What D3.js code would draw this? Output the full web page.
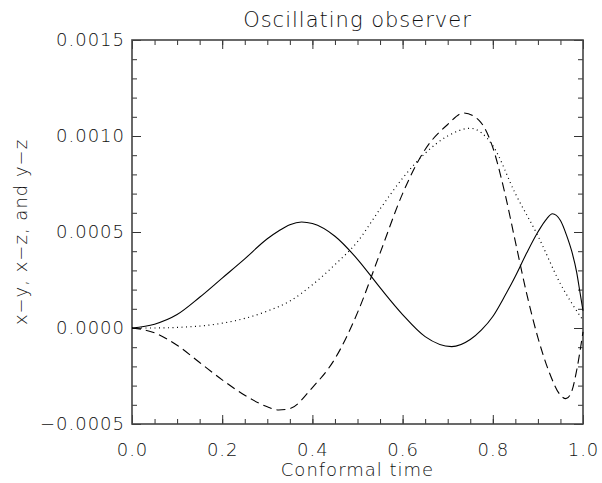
<!DOCTYPE html>
<html>
<head>
<meta charset="utf-8">
<script src="https://cdn.jsdelivr.net/npm/d3@7"></script>
<style>
  body { margin: 0; background: #fff; }
  text { font-family: "DejaVu Sans", sans-serif; font-weight: 200; fill: #111; letter-spacing: 1px; }
</style>
</head>
<body>
<script>
// values
var solidT = [0, 0.05, 0.1, 0.15, 0.2, 0.25, 0.3, 0.325, 0.35, 0.376, 0.4, 0.45, 0.5, 0.55, 0.6, 0.65, 0.709, 0.75, 0.775, 0.8, 0.825, 0.85, 0.875, 0.9, 0.92, 0.932, 0.95, 0.964, 0.975, 0.986, 0.993, 1.0];
var solidV = [0, 0.00002, 0.00007, 0.00016, 0.00026, 0.00036, 0.000465, 0.000505, 0.000538, 0.000552, 0.000544, 0.000478, 0.000358, 0.00021, 0.00007, -0.000045, -0.000097, -0.00006, -0.00001, 0.00006, 0.00016, 0.00027, 0.00039, 0.0005, 0.00057, 0.000595, 0.00056, 0.00048, 0.0004, 0.00029, 0.00019, 0.00009];

var dotT = [0, 0.05, 0.1, 0.15, 0.2, 0.25, 0.3, 0.35, 0.4, 0.45, 0.5, 0.55, 0.6, 0.65, 0.7, 0.75, 0.8, 0.85, 0.9, 0.95, 1.0];
var dotV = [0, 0, 0.000003, 0.00001, 0.000025, 0.00005, 0.000088, 0.00014, 0.000225, 0.00033, 0.00045, 0.00062, 0.00078, 0.00091, 0.001, 0.00104, 0.00095, 0.0007, 0.00048, 0.00023, 0.00004];

var dashT = [0, 0.05, 0.1, 0.15, 0.2, 0.25, 0.3, 0.325, 0.35, 0.4, 0.45, 0.5, 0.55, 0.6, 0.65, 0.7, 0.735, 0.77, 0.8, 0.825, 0.85, 0.875, 0.9, 0.925, 0.95, 0.962, 0.975, 0.986, 1.0];
var dashV = [0, -0.000025, -0.00009, -0.00018, -0.00027, -0.00035, -0.00041, -0.000427, -0.00042, -0.00031, -0.00016, 0.00008, 0.00039, 0.0007, 0.00093, 0.00106, 0.00112, 0.00108, 0.00094, 0.00072, 0.00045, 0.00018, -0.00005, -0.00023, -0.00035, -0.000368, -0.00033, -0.00022, -0.00002];

var xMajor = [0, 0.2, 0.4, 0.6, 0.8, 1.0];
var yMajor = [-0.0005, 0, 0.0005, 0.001, 0.0015];
var titleText = "Oscillating observer";
var xTitle = "Conformal time";
var yTitle = "x\u2212y, x\u2212z, and y\u2212z";

var margin = {top: 40, right: 19, bottom: 59, left: 132},
    width = 602 - margin.left - margin.right,
    height = 483 - margin.top - margin.bottom;

var x = d3.scaleLinear().domain([0, 1]).range([0, width]);
var y = d3.scaleLinear().domain([-0.0005, 0.0015]).range([height, 0]);

var svg = d3.select("body").append("svg")
    .attr("width", 602)
    .attr("height", 483)
  .append("g")
    .attr("transform", "translate(" + margin.left + "," + margin.top + ")");

var xMinor = d3.range(0, 1.0001, 0.05).map(function(d) { return +d.toFixed(2); });
var yMinor = d3.range(-0.0005, 0.00150001, 0.0001).map(function(d) { return +d.toFixed(4); });

function fmtY(d) { return d < 0 ? "\u2212" + d3.format(".4f")(-d) : d3.format(".4f")(d); }

// minor ticks
svg.append("g")
    .attr("transform", "translate(0," + height + ")")
    .call(d3.axisBottom(x).tickValues(xMinor).tickSize(-5).tickFormat(""));
svg.append("g")
    .call(d3.axisTop(x).tickValues(xMinor).tickSize(-5).tickFormat(""));
svg.append("g")
    .call(d3.axisLeft(y).tickValues(yMinor).tickSize(-5).tickFormat(""));
svg.append("g")
    .attr("transform", "translate(" + width + ",0)")
    .call(d3.axisRight(y).tickValues(yMinor).tickSize(-5).tickFormat(""));

// major ticks + labels
svg.append("g")
    .attr("transform", "translate(0," + height + ")")
    .call(d3.axisBottom(x).tickValues(xMajor).tickSize(-9).tickPadding(19).tickFormat(d3.format(".1f")));
svg.append("g")
    .call(d3.axisTop(x).tickValues(xMajor).tickSize(-9).tickFormat(""));
svg.append("g")
    .call(d3.axisLeft(y).tickValues(yMajor).tickSize(-9).tickPadding(7).tickFormat(fmtY));
svg.append("g")
    .attr("transform", "translate(" + width + ",0)")
    .call(d3.axisRight(y).tickValues(yMajor).tickSize(-9).tickFormat(""));

svg.selectAll(".domain").remove();
svg.selectAll(".tick line").attr("stroke", "#333").attr("stroke-width", 1);
svg.selectAll(".tick text")
    .style("font-size", "18px")
    .style("font-family", "DejaVu Sans")
    .style("font-weight", 200)
    .attr("fill", "#111");

// frame
svg.append("rect")
    .attr("width", width)
    .attr("height", height)
    .attr("fill", "none")
    .attr("stroke", "#444")
    .attr("stroke-width", 1.6);

var line = d3.line()
    .x(function(d) { return x(d[0]); })
    .y(function(d) { return y(d[1]); })
    .curve(d3.curveMonotoneX);

function pairs(t, v) { return t.map(function(d, i) { return [d, v[i]]; }); }

svg.append("path")
    .datum(pairs(solidT, solidV))
    .attr("fill", "none").attr("stroke", "#000").attr("stroke-width", 1.1)
    .attr("d", line);

svg.append("path")
    .datum(pairs(dotT, dotV))
    .attr("fill", "none").attr("stroke", "#000").attr("stroke-width", 1.2)
    .attr("stroke-dasharray", "1,3.5")
    .attr("d", line);

svg.append("path")
    .datum(pairs(dashT, dashV))
    .attr("fill", "none").attr("stroke", "#000").attr("stroke-width", 1.1)
    .attr("stroke-dasharray", "9,5")
    .attr("d", line);

// titles
svg.append("text")
    .attr("x", width / 2).attr("y", -13)
    .attr("text-anchor", "middle")
    .style("font-size", "21px")
    .text(titleText);

svg.append("text")
    .attr("x", width / 2).attr("y", height + 52)
    .attr("text-anchor", "middle")
    .style("font-size", "18px")
    .text(xTitle);

svg.append("text")
    .attr("transform", "translate(" + (-105) + "," + (height / 2) + ") rotate(-90)")
    .attr("text-anchor", "middle")
    .style("font-size", "18px")
    .text(yTitle);
</script>
</body>
</html>
